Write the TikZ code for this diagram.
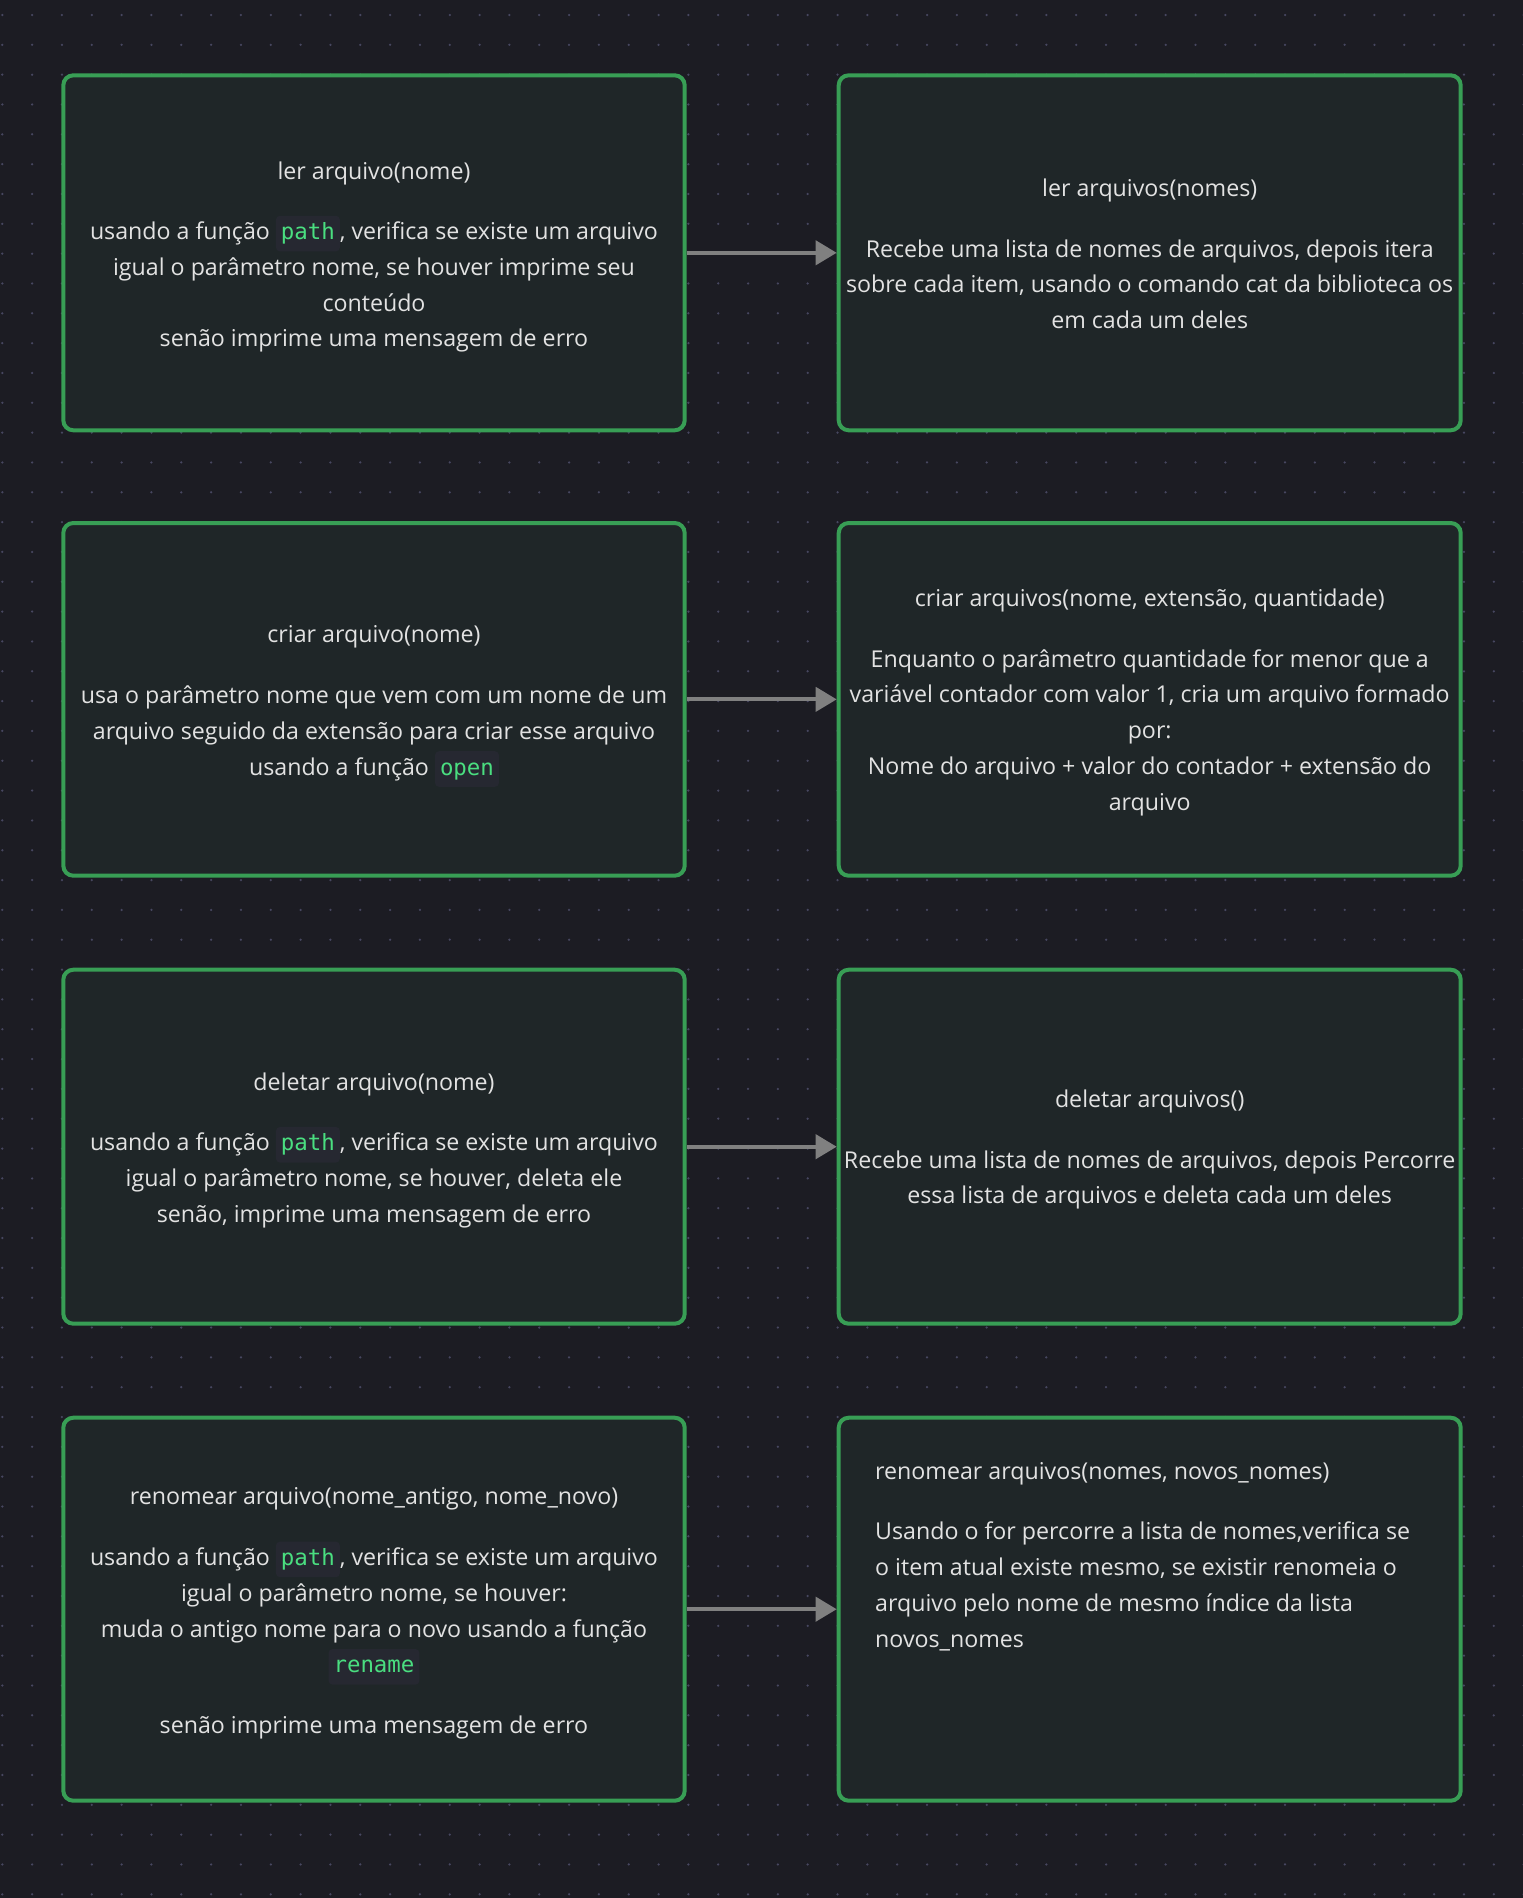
\documentclass[tikz,border=0pt]{standalone}
\usepackage{fontspec}
\setmainfont{Open Sans}
\newfontfamily\codefont{DejaVu Sans Mono}
\usetikzlibrary{arrows.meta}
\definecolor{pagebg}{HTML}{1C1C23}
\definecolor{cardbg}{HTML}{1F2628}
\definecolor{cardgreen}{HTML}{389E55}
\definecolor{txt}{HTML}{E2E2E2}
\definecolor{codegreen}{HTML}{4ADE80}
\definecolor{codebg}{HTML}{262831}
\definecolor{arrowgray}{HTML}{808080}
\definecolor{dotc}{HTML}{474760}
\tikzset{
  card/.style={draw=cardgreen, line width=4pt, fill=cardbg, rounded corners=10pt, inner sep=0pt},
  lbl/.style={text=txt, align=center, inner sep=0pt, font=\fontsize{23.2}{35.8}\selectfont},
  lbll/.style={text=txt, align=left, inner sep=0pt, font=\fontsize{23.2}{35.8}\selectfont},
  conn/.style={draw=arrowgray, line width=4pt, -{Triangle[length=21pt,width=24pt]}},
  codebox/.style={fill=codebg, rounded corners=4pt, text=codegreen, inner xsep=5pt, inner ysep=0pt, text height=23.8pt, text depth=11.8pt, font=\codefont\fontsize{22.4}{26}\selectfont}
}
\newcommand{\codeword}[1]{\tikz[baseline=(cb.base)]\node[codebox](cb){#1};}
\begin{document}
\begin{tikzpicture}[x=1pt,y=-1pt]
\fill[pagebg] (0,0) rectangle (1523,1898);
\useasboundingbox (0,0) rectangle (1523,1898);
\foreach \i in {0,...,51}{
  \foreach \j in {0,...,63}{
    \fill[dotc] ({2.3+29.83*\i},{15+29.83*\j}) circle (1.25pt);
  }
}
% cards
\node[card, minimum width=621.4pt, minimum height=355pt] (c1l) at (374,252.8) {};
\node[card, minimum width=622pt, minimum height=355pt] (c1r) at (1149.7,252.8) {};
\node[card, minimum width=621.4pt, minimum height=352.7pt] (c2l) at (374,699.35) {};
\node[card, minimum width=622pt, minimum height=352.7pt] (c2r) at (1149.7,699.35) {};
\node[card, minimum width=621.4pt, minimum height=354pt] (c3l) at (374,1146.7) {};
\node[card, minimum width=622pt, minimum height=354pt] (c3r) at (1149.7,1146.7) {};
\node[card, minimum width=621.4pt, minimum height=383pt] (c4l) at (374,1609.2) {};
\node[card, minimum width=622pt, minimum height=383pt] (c4r) at (1149.7,1609.2) {};
% texts
\node[lbl, yshift=-4.2pt] (t1l) at (c1l.center) {ler arquivo(nome)\\[24.7pt]
usando a função \codeword{path}, verifica se existe um arquivo\\
igual o parâmetro nome, se houver imprime seu\\
conteúdo\\
senão imprime uma mensagem de erro};
\node[lbl, yshift=-1.2pt] (t1r) at (c1r.center) {ler arquivos(nomes)\\[24.7pt]
Recebe uma lista de nomes de arquivos, depois itera\\
sobre cada item, usando o comando cat da biblioteca os\\
em cada um deles};
\node[lbl, yshift=-7pt] (t2l) at (c2l.center) {criar arquivo(nome)\\[24.7pt]
usa o parâmetro nome que vem com um nome de um\\
arquivo seguido da extensão para criar esse arquivo\\
usando a função \codeword{open}};
\node[lbl, yshift=-3pt] (t2r) at (c2r.center) {criar arquivos(nome, extensão, quantidade)\\[24.7pt]
Enquanto o parâmetro quantidade for menor que a\\
variável contador com valor 1, cria um arquivo formado\\
por:\\
Nome do arquivo + valor do contador + extensão do\\
arquivo};
\node[lbl, yshift=-3.6pt] (t3l) at (c3l.center) {deletar arquivo(nome)\\[24.7pt]
usando a função \codeword{path}, verifica se existe um arquivo\\
igual o parâmetro nome, se houver, deleta ele\\
senão, imprime uma mensagem de erro};
\node[lbl, yshift=-3pt] (t3r) at (c3r.center) {deletar arquivos()\\[24.7pt]
Recebe uma lista de nomes de arquivos, depois Percorre\\
essa lista de arquivos e deleta cada um deles};
\node[lbl, yshift=-4.2pt] (t4l) at (c4l.center) {renomear arquivo(nome\_antigo, nome\_novo)\\[24.7pt]
usando a função \codeword{path}, verifica se existe um arquivo\\
igual o parâmetro nome, se houver:\\
muda o antigo nome para o novo usando a função\\
\codeword{rename}\\[24.7pt]
senão imprime uma mensagem de erro};
\node[lbll, anchor=north west] (t4r) at (875,1462) {renomear arquivos(nomes, novos\_nomes)\\[24.7pt]
Usando o for percorre a lista de nomes,verifica se\\
o item atual existe mesmo, se existir renomeia o\\
arquivo pelo nome de mesmo índice da lista\\
novos\_nomes};
% connectors
\draw[conn] (c1l.east) -- (c1r.west);
\draw[conn] (c2l.east) -- (c2r.west);
\draw[conn] (c3l.east) -- (c3r.west);
\draw[conn] (c4l.east) -- (c4r.west);
\end{tikzpicture}
\end{document}
